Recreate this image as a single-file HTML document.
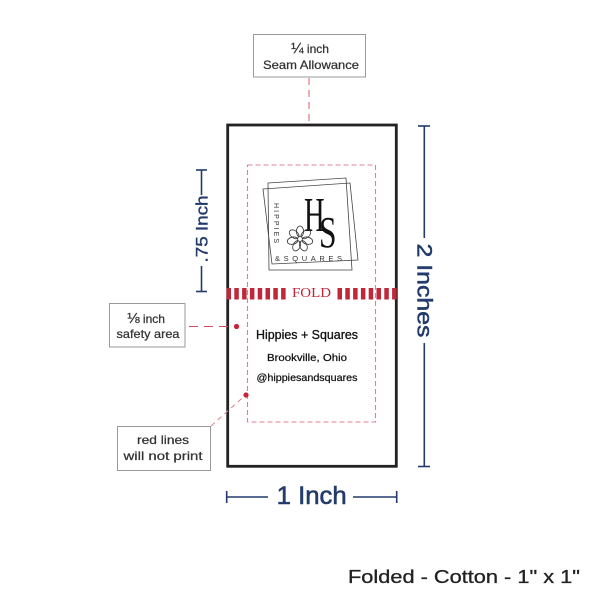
<!DOCTYPE html>
<html><head><meta charset="utf-8"><style>
html,body{margin:0;padding:0;background:#fff;}
svg{display:block;}
</style></head><body>
<svg width="600" height="600" viewBox="0 0 600 600" xmlns="http://www.w3.org/2000/svg">
<rect width="600" height="600" fill="#fff"/>

<!-- seam allowance label -->
<rect x="253.5" y="34.5" width="112" height="42.5" fill="#fff" stroke="#9a9a9a" stroke-width="1"/>
<text x="310" y="53" font-family="Liberation Sans, sans-serif" font-size="12" fill="#333" stroke="#333" stroke-width="0.25" text-anchor="middle"><tspan font-size="15">¼</tspan> inch</text>
<text x="311" y="69" font-family="Liberation Sans, sans-serif" font-size="12" fill="#333" stroke="#333" stroke-width="0.25" text-anchor="middle" textLength="96" lengthAdjust="spacingAndGlyphs">Seam Allowance</text>
<line x1="309" y1="78" x2="309" y2="143" stroke="#e07f90" stroke-width="1.3" stroke-dasharray="7,5"/>
<circle cx="309" cy="145" r="2.6" fill="#c8233a"/>

<!-- outer label -->
<rect x="227.7" y="125" width="168.6" height="341.3" fill="#fff" stroke="#222" stroke-width="2.8"/>

<!-- fold band -->
<g fill="#c0283a">
  <rect x="226.5" y="288" width="4.5" height="11.5"/>
  <rect x="234.3" y="288" width="4.5" height="11.5"/>
  <rect x="242.1" y="288" width="4.5" height="11.5"/>
  <rect x="249.9" y="288" width="4.5" height="11.5"/>
  <rect x="257.7" y="288" width="4.5" height="11.5"/>
  <rect x="265.5" y="288" width="4.5" height="11.5"/>
  <rect x="273.3" y="288" width="4.5" height="11.5"/>
  <rect x="281.1" y="288" width="4.5" height="11.5"/>
  <rect x="337.5" y="288" width="4.5" height="11.5"/>
  <rect x="345.3" y="288" width="4.5" height="11.5"/>
  <rect x="353.1" y="288" width="4.5" height="11.5"/>
  <rect x="360.9" y="288" width="4.5" height="11.5"/>
  <rect x="368.7" y="288" width="4.5" height="11.5"/>
  <rect x="376.5" y="288" width="4.5" height="11.5"/>
  <rect x="384.3" y="288" width="4.5" height="11.5"/>
  <rect x="392.1" y="288" width="4.5" height="11.5"/>
</g>
<text x="311.5" y="297" font-family="Liberation Serif, serif" font-size="14" fill="#c0283a" text-anchor="middle" textLength="39" lengthAdjust="spacingAndGlyphs">FOLD</text>

<!-- safe area dashed rect -->
<rect x="247.5" y="165" width="128" height="257" fill="none" stroke="#e07f90" stroke-width="1.1" stroke-dasharray="5,3"/>

<!-- logo -->
<g fill="none" stroke="#444" stroke-width="0.8">
  <polygon points="268,183 346,178 352,270 269,270"/>
  <polygon points="263,189 350,183 358,260 272,264"/>
</g>
<text x="0" y="0" transform="translate(304,231) scale(0.62,1.05)" font-family="Liberation Serif, serif" font-size="46" fill="#111">H</text>
<text x="0" y="0" transform="translate(319,247) scale(0.75,1.05)" font-family="Liberation Serif, serif" font-size="42" fill="#111">S</text>
<text x="0" y="0" transform="translate(274,203) rotate(90)" font-family="Liberation Sans, sans-serif" font-size="7" fill="#333" textLength="40" lengthAdjust="spacing">HIPPIES</text>
<text x="275" y="261" font-family="Liberation Sans, sans-serif" font-size="7.5" fill="#333" textLength="67" lengthAdjust="spacing">&amp;SQUARES</text>
<g fill="none" stroke="#333" stroke-width="0.8" transform="translate(300,239)">
  <ellipse cx="0" cy="-7.5" rx="3.6" ry="5.5"/>
  <ellipse cx="0" cy="-7.5" rx="3.6" ry="5.5" transform="rotate(51)"/>
  <ellipse cx="0" cy="-7.5" rx="3.6" ry="5.5" transform="rotate(103)"/>
  <ellipse cx="0" cy="-7.5" rx="3.6" ry="5.5" transform="rotate(154)"/>
  <ellipse cx="0" cy="-7.5" rx="3.6" ry="5.5" transform="rotate(206)"/>
  <ellipse cx="0" cy="-7.5" rx="3.6" ry="5.5" transform="rotate(257)"/>
  <ellipse cx="0" cy="-7.5" rx="3.6" ry="5.5" transform="rotate(309)"/>
  <circle cx="0" cy="0" r="2.4" fill="#fff"/>
</g>

<!-- address text -->
<text x="307" y="339" font-family="Liberation Sans, sans-serif" font-size="12.5" fill="#111" stroke="#111" stroke-width="0.3" text-anchor="middle" textLength="102" lengthAdjust="spacingAndGlyphs">Hippies + Squares</text>
<text x="307" y="361" font-family="Liberation Sans, sans-serif" font-size="10.5" fill="#111" stroke="#111" stroke-width="0.25" text-anchor="middle" textLength="80" lengthAdjust="spacingAndGlyphs">Brookville, Ohio</text>
<text x="307" y="381" font-family="Liberation Sans, sans-serif" font-size="10.5" fill="#111" stroke="#111" stroke-width="0.25" text-anchor="middle" textLength="101" lengthAdjust="spacingAndGlyphs">@hippiesandsquares</text>

<!-- safety label -->
<rect x="109.5" y="303.5" width="75.5" height="43.5" fill="#fff" stroke="#9a9a9a" stroke-width="1"/>
<text x="146" y="323" font-family="Liberation Sans, sans-serif" font-size="12" fill="#333" stroke="#333" stroke-width="0.25" text-anchor="middle"><tspan font-size="15">⅛</tspan> inch</text>
<text x="148" y="338" font-family="Liberation Sans, sans-serif" font-size="12" fill="#333" stroke="#333" stroke-width="0.25" text-anchor="middle" textLength="63" lengthAdjust="spacingAndGlyphs">safety area</text>
<line x1="189" y1="326.5" x2="234" y2="326.5" stroke="#d94a5e" stroke-width="1.1" stroke-dasharray="9,6"/>
<circle cx="236.5" cy="326.5" r="2.6" fill="#c8233a"/>

<!-- red lines label -->
<rect x="117.5" y="426.5" width="93" height="44" fill="#fff" stroke="#9a9a9a" stroke-width="1"/>
<text x="163" y="444" font-family="Liberation Sans, sans-serif" font-size="12" fill="#333" stroke="#333" stroke-width="0.25" text-anchor="middle" textLength="52" lengthAdjust="spacingAndGlyphs">red lines</text>
<text x="163" y="460" font-family="Liberation Sans, sans-serif" font-size="12" fill="#333" stroke="#333" stroke-width="0.25" text-anchor="middle" textLength="79" lengthAdjust="spacingAndGlyphs">will not print</text>
<line x1="211" y1="426" x2="244" y2="396.5" stroke="#e07f90" stroke-width="1" stroke-dasharray="5,4"/>
<circle cx="246" cy="395" r="2.6" fill="#c8233a"/>

<!-- .75 inch dimension -->
<g stroke="#233a6b" stroke-width="1.6" fill="none">
  <line x1="196" y1="170" x2="207" y2="170"/>
  <line x1="201.5" y1="170" x2="201.5" y2="195"/>
  <line x1="196" y1="291.5" x2="207" y2="291.5"/>
  <line x1="201.5" y1="266" x2="201.5" y2="291.5"/>
</g>
<text x="0" y="0" transform="translate(207.5,229) rotate(-90)" font-family="Liberation Sans, sans-serif" font-size="17" fill="#233a6b" stroke="#233a6b" stroke-width="0.4" text-anchor="middle" textLength="67" lengthAdjust="spacingAndGlyphs">.75 Inch</text>

<!-- 2 inches dimension -->
<g stroke="#233a6b" stroke-width="1.6" fill="none">
  <line x1="418" y1="126" x2="430" y2="126"/>
  <line x1="424.3" y1="126" x2="424.3" y2="238"/>
  <line x1="418" y1="466.5" x2="430" y2="466.5"/>
  <line x1="424.3" y1="343" x2="424.3" y2="466.5"/>
</g>
<text x="0" y="0" transform="translate(417.5,290.5) rotate(90)" font-family="Liberation Sans, sans-serif" font-size="21" fill="#233a6b" stroke="#233a6b" stroke-width="0.5" text-anchor="middle" textLength="94" lengthAdjust="spacingAndGlyphs">2 Inches</text>

<!-- 1 inch dimension -->
<g stroke="#233a6b" stroke-width="1.6" fill="none">
  <line x1="226.7" y1="491" x2="226.7" y2="503"/>
  <line x1="226.7" y1="497" x2="268" y2="497"/>
  <line x1="396.7" y1="491" x2="396.7" y2="503"/>
  <line x1="353" y1="497" x2="396.7" y2="497"/>
</g>
<text x="311.7" y="504" font-family="Liberation Sans, sans-serif" font-size="25" fill="#233a6b" stroke="#233a6b" stroke-width="0.6" text-anchor="middle" textLength="70" lengthAdjust="spacingAndGlyphs">1 Inch</text>

<!-- caption -->
<text x="348" y="583" font-family="Liberation Sans, sans-serif" font-size="18" fill="#222" stroke="#222" stroke-width="0.3" textLength="232" lengthAdjust="spacingAndGlyphs">Folded - Cotton - 1" x 1"</text>
</svg>
</body></html>
